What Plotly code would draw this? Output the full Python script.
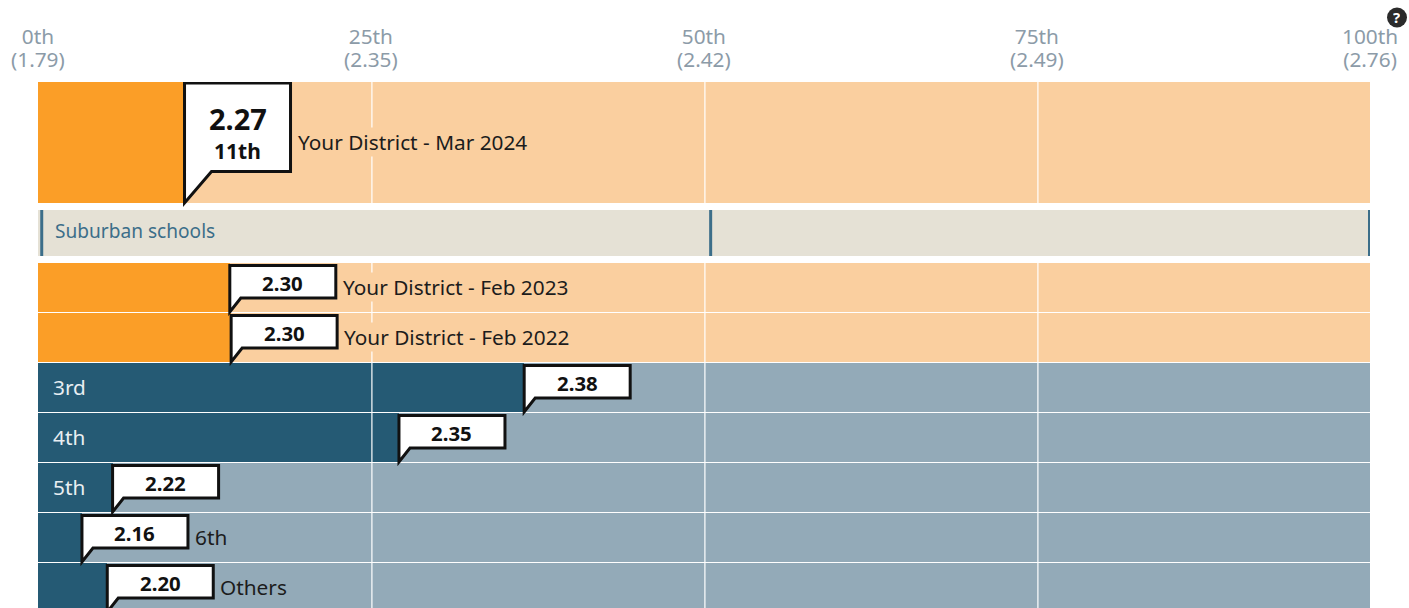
import plotly.graph_objects as go

# ---- data ----
district_labels = ["Your District - Mar 2024", "Your District - Feb 2023", "Your District - Feb 2022"]
district_pct = [11.0, 14.4, 14.5]
district_scores = ["2.27", "2.30", "2.30"]
grade_labels = ["3rd", "4th", "5th", "6th", "Others"]
grade_pct = [36.5, 27.1, 5.6, 3.3, 5.2]
grade_scores = ["2.38", "2.35", "2.22", "2.16", "2.20"]
band_label = "Suburban schools"
band_marks = [0.28, 50.5, 99.96]
tick_pct = [0, 25, 50, 75, 100]
tick_rank = ["0th", "25th", "50th", "75th", "100th"]
tick_score = ["(1.79)", "(2.35)", "(2.42)", "(2.49)", "(2.76)"]
top_percentile_text = "11th"

# ---- style ----
ORANGE, PEACH = "#FB9E27", "#FACF9F"
NAVY, SLATE = "#255A74", "#93AAB8"
BAND, BAND_INK = "#E5E1D5", "#3C6E89"
INK, GREY = "#1c1c1c", "#8C9BA8"
FONT = "Noto Sans"
LABEL_SIZE = 20.8

PLOT_TOP = 82
PLOT_H = 526
def py(v):  # page pixel -> y axis unit
    return v - PLOT_TOP
def paper_y(v):  # page pixel -> paper fraction
    return (608 - v) / PLOT_H

rows = [(82, 203)] + [(263 + 50 * i, 312 + 50 * i) for i in range(7)]
band_row = (210, 256)
labels = district_labels + grade_labels
pcts = district_pct + grade_pct
scores = district_scores + grade_scores
is_district = [True] * 3 + [False] * 5

centers = [py((a + b) / 2) for a, b in rows]
heights = [b - a for a, b in rows]

fig = go.Figure()
fig.add_bar(y=centers, x=pcts, width=heights, orientation="h",
            marker=dict(color=[ORANGE if d else NAVY for d in is_district], line_width=0),
            hoverinfo="skip", showlegend=False)
fig.add_bar(y=centers, x=[100 - p for p in pcts], width=heights, orientation="h",
            marker=dict(color=[PEACH if d else SLATE for d in is_district], line_width=0),
            hoverinfo="skip", showlegend=False)
fig.add_bar(y=[py(sum(band_row) / 2)], x=[100], width=[band_row[1] - band_row[0]], orientation="h",
            marker=dict(color=BAND, line_width=0), hoverinfo="skip", showlegend=False)

shapes, notes = [], []

# axis labels: the outer font size sets the line spacing, the inner span the glyph size
for p, rank, score in zip(tick_pct, tick_rank, tick_score):
    span = f'<span style="font-size:{LABEL_SIZE}px">'
    notes.append(dict(x=p / 100, y=paper_y(47.5), xref="paper", yref="paper",
                      text=f"{span}{rank}</span><br>{span}{score}</span>", showarrow=False,
                      xanchor="center", yanchor="middle", align="center",
                      font=dict(family=FONT, size=17.7, color=GREY)))

# grid lines
for p in tick_pct[1:-1]:
    for a, b in [(82, 203), (263, 608)]:
        shapes.append(dict(type="line", xsizemode="pixel", xanchor=p, x0=0.9, x1=0.9, y0=py(a), y1=py(b),
                           xref="x", yref="y", line=dict(color="#FFFFFF", width=1.2), layer="above"))

# band marks
for m in band_marks:
    shapes.append(dict(type="line", x0=m, x1=m, y0=py(band_row[0]), y1=py(band_row[1]),
                       xref="x", yref="y", line=dict(color=BAND_INK, width=3), layer="above"))
notes.append(dict(x=0, y=py(230.5), xref="x", yref="y", xanchor="left", yanchor="middle", xshift=15,
                  text=band_label, showarrow=False, font=dict(family=FONT, size=19.1, color=BAND_INK)))

# callouts
for i, (lab, pct, sc, (top, bottom), dist) in enumerate(zip(labels, pcts, scores, rows, is_district)):
    big = i == 0
    w, tail, notch, H = (106, 31.5, 27, 88.5) if big else (106, 14, 11, 32.5)
    path = (f"M 0 0 L 0 {tail + H} L {w} {tail + H} L {w} {tail} L {notch} {tail} Z")
    shapes.append(dict(type="path", xsizemode="pixel", ysizemode="pixel", xref="x", yref="y",
                       xanchor=pct, yanchor=py(bottom), path=path, fillcolor="#FFFFFF",
                       line=dict(color="#111111", width=3), layer="above"))
    if big:
        notes.append(dict(x=pct, y=py(118.5), xref="x", yref="y", xshift=w / 2, text=f"<b>{sc}</b>",
                          showarrow=False, font=dict(family=FONT, size=29, color="#111111")))
        notes.append(dict(x=pct, y=py(151.3), xref="x", yref="y", xshift=w / 2, text=f"<b>{top_percentile_text}</b>",
                          showarrow=False, font=dict(family=FONT, size=21, color="#111111")))
    else:
        notes.append(dict(x=pct, y=py(top + 19.5), xref="x", yref="y", xshift=w / 2, text=f"<b>{sc}</b>",
                          showarrow=False, font=dict(family=FONT, size=20.4, color="#111111")))
    y_mid = py((top + bottom) / 2 - 0.5)
    if dist or lab in ("6th", "Others"):
        notes.append(dict(x=pct, y=y_mid, xref="x", yref="y", xanchor="left", yanchor="middle", xshift=w + 6,
                          text=lab, showarrow=False, bgcolor=PEACH if dist else "rgba(0,0,0,0)",
                          borderpad=0, font=dict(family=FONT, size=LABEL_SIZE, color=INK)))
    else:
        notes.append(dict(x=0, y=y_mid, xref="x", yref="y", xanchor="left", yanchor="middle", xshift=13,
                          text=lab, showarrow=False, font=dict(family=FONT, size=LABEL_SIZE, color="#E8EEF2")))

# help badge
bx, by = (1397 - 38) / 1332, paper_y(17.5)
shapes.append(dict(type="circle", xref="paper", yref="paper", xsizemode="pixel", ysizemode="pixel",
                   xanchor=bx, yanchor=by, x0=-10, x1=10, y0=-10, y1=10,
                   fillcolor="#2B2B2B", line_width=0, layer="above"))
notes.append(dict(xref="paper", yref="paper", x=bx, y=by, xanchor="center", yanchor="middle", text="<b>?</b>",
                  showarrow=False, height=16, font=dict(family=FONT, size=15, color="#FFFFFF")))

fig.update_layout(
    width=1409, height=608, margin=dict(l=38, r=39, t=PLOT_TOP, b=0),
    paper_bgcolor="#FFFFFF", plot_bgcolor="#FFFFFF", barmode="stack", bargap=0,
    shapes=shapes, annotations=notes, showlegend=False,
    xaxis=dict(range=[0, 100], visible=False, fixedrange=True),
    yaxis=dict(range=[526, 0], visible=False, fixedrange=True),
)
fig.write_html("out.html", config={"displayModeBar": False},
               post_script="document.body.style.margin='0';document.body.style.overflow='hidden';")
